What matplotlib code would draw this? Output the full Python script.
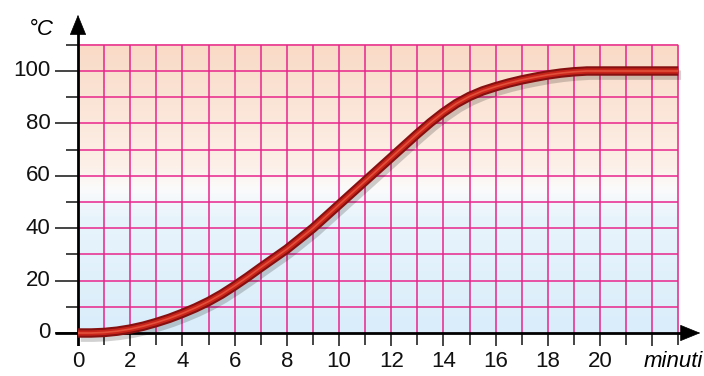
import numpy as np
import matplotlib
matplotlib.use("Agg")
import matplotlib.pyplot as plt
import matplotlib.patheffects as pe
from matplotlib.colors import LinearSegmentedColormap

plt.rcParams['font.family'] = ['Liberation Sans', 'DejaVu Sans']

# data (every half minute)
minutes = [0, 0.5, 1, 1.5, 2, 2.5, 3, 3.5, 4, 4.5, 5, 5.5, 6, 6.5, 7, 7.5, 8, 8.5, 9, 9.5,
           10, 10.5, 11, 11.5, 12, 12.5, 13, 13.5, 14, 14.5, 15, 15.5, 16, 16.5, 17, 17.5,
           18, 18.5, 19, 19.5, 20, 23]
temp = [0, 0, 0.2, 0.7, 1.5, 2.6, 4, 5.6, 7.5, 9.6, 12, 14.8, 18, 21.4, 25, 28.5, 32, 36, 40, 44.5,
        49, 53.5, 58, 62.5, 67, 71.5, 76, 80.3, 84.2, 87.6, 90.3, 92.4, 94, 95.4, 96.6, 97.6,
        98.5, 99.2, 99.7, 100, 100, 100]
x_labels = [0, 2, 4, 6, 8, 10, 12, 14, 16, 18, 20]
y_labels = [0, 20, 40, 60, 80, 100]

fig = plt.figure(figsize=(7.04, 3.76), dpi=100)
# x: 0 -> 78px, 26.1 px/min ; y: 0 -> 333px, 2.62 px/deg
x0, x1 = -0.9, 23.95
y0, y1 = -5, 122
ax = fig.add_axes([(78 + x0 * 26.1) / 704, (376 - (333 - y0 * 2.62)) / 376,
                   (x1 - x0) * 26.1 / 704, (y1 - y0) * 2.62 / 376])
ax.set_xlim(x0, x1)
ax.set_ylim(y0, y1)
ax.axis('off')

# background gradient: peach on top, white in the middle, light blue below
cmap = LinearSegmentedColormap.from_list('bg', [(0, '#d9edfa'), (0.4, '#e8f4fc'), (0.5, '#fbfbfb'),
                                                (0.58, '#fdf0e8'), (1, '#f9dac6')])
grad = np.linspace(0, 1, 256).reshape(-1, 1)
ax.imshow(grad, cmap=cmap, origin='lower', extent=[0, 23, 0, 110], aspect='auto', zorder=0)

# grid
grid_c = '#e8258c'
ax.vlines(np.arange(1, 24), 0, 110, color=grid_c, lw=1.1, zorder=1)
ax.hlines(np.arange(10, 111, 10), 0, 23, color=grid_c, lw=1.1, zorder=1)

# ticks
tick_c = '#444444'
for v in range(0, 111, 10):
    left = -0.88 if v % 20 == 0 else -0.45
    ax.plot([left, 0], [v, v], color=tick_c, lw=1.4, zorder=2, solid_capstyle='butt')
for m in range(1, 24):
    low = -6.5 if m % 2 == 0 else -4.5
    ax.plot([m, m], [0, low], color=tick_c, lw=1.4, zorder=2, solid_capstyle='butt')

# axes with arrows
ax.plot([-0.88, 23.2], [0, 0], color='black', lw=2, zorder=3, solid_capstyle='butt')
ax.plot([0, 0], [-7.5, 115], color='black', lw=2, zorder=3, solid_capstyle='butt')
head = dict(arrowstyle='-|>,head_length=1.35,head_width=0.55', color='black', lw=0.5, mutation_scale=10)
ax.annotate('', xy=(23.95, 0), xytext=(23.0, 0), arrowprops=head, zorder=4, annotation_clip=False)
ax.annotate('', xy=(0, 122.5), xytext=(0, 113), arrowprops=head, zorder=4, annotation_clip=False)

# curve
shadow = [pe.SimpleLineShadow(offset=(2, -3), shadow_color='black', alpha=0.18), pe.Normal()]
ax.plot(minutes, temp, color='#861010', lw=6.8, zorder=5, solid_capstyle='butt',
        solid_joinstyle='round', path_effects=shadow)
ax.plot(minutes, temp, color='#c8241a', lw=3.8, zorder=6, solid_capstyle='butt', solid_joinstyle='round')
ax.plot(minutes, temp, color='#e2503a', lw=1.2, zorder=7, solid_capstyle='butt', solid_joinstyle='round')

# labels
for v in y_labels:
    ax.text(-1.05, v, str(v), ha='right', va='center', fontsize=16, color='#111111')
for m in x_labels:
    ax.text(m, -11, str(m), ha='center', va='center', fontsize=16, color='#111111')
ax.text(-1.42, 116, '°C', ha='center', va='center', fontsize=16, style='italic')
ax.text(23.95, -11, 'minuti', ha='right', va='center', fontsize=16, style='italic')

fig.savefig('out.png', dpi=100)
